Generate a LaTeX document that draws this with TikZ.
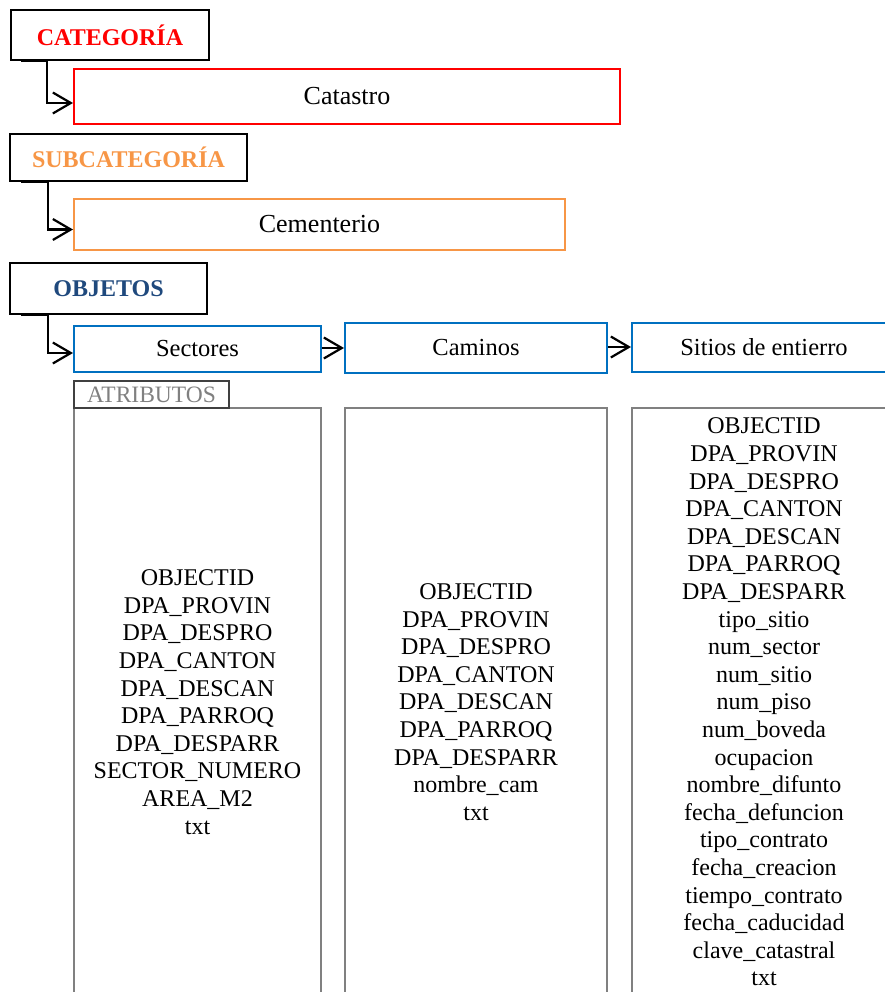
\documentclass[tikz,border=0pt]{standalone}
\usepackage{fontspec}
\setmainfont{Liberation Serif}
\usetikzlibrary{arrows.meta}
\definecolor{cRed}{HTML}{FF0000}
\definecolor{cOrange}{HTML}{F79646}
\definecolor{cNavy}{HTML}{1F497D}
\definecolor{cBlue}{HTML}{0070C0}
\definecolor{cGrey}{HTML}{808080}
\begin{document}
\begin{tikzpicture}[x=1pt,y=-1pt,
  hdr/.style={draw=black,line width=2.2pt,inner sep=0pt,font=\fontsize{24}{28}\selectfont\bfseries},
  lbox/.style={draw,line width=2pt,inner sep=0pt,font=\fontsize{24.5}{28}\selectfont},
  abox/.style={draw=cGrey,line width=2pt,inner sep=0pt,align=center,font=\fontsize{24}{27.6}\selectfont},
  conn/.style={line width=2.2pt,-{Straight Barb[length=18pt,width=21pt]}},
]
\useasboundingbox (0,0) rectangle (885,992);
\clip (0,0) rectangle (885,992);
% headers
\node[hdr,text=cRed,minimum width=198pt,minimum height=50pt] (cat) at (110,35) {CATEGORÍA};
\node[hdr,text=cOrange,minimum width=237pt,minimum height=47pt] (sub) at (128.5,157.5) {SUBCATEGORÍA};
\node[hdr,text=cNavy,minimum width=197pt,minimum height=51pt] (obj) at (108.5,288.5) {OBJETOS};
% level boxes
\node[lbox,draw=cRed,minimum width=546pt,minimum height=55pt,font=\fontsize{26}{30}\selectfont] (catastro) at (347,96.5) {Catastro};
\node[lbox,draw=cOrange,minimum width=491pt,minimum height=51pt,font=\fontsize{26}{30}\selectfont] (cem) at (319.5,224.5) {Cementerio};
\node[lbox,draw=cBlue,minimum width=247pt,minimum height=46pt] (sec) at (197.5,349) {Sectores};
\node[lbox,draw=cBlue,minimum width=262pt,minimum height=50pt] (cam) at (476,348) {Caminos};
\node[lbox,draw=cBlue,minimum width=264pt,minimum height=49pt] (sit) at (764,347.5) {Sitios de entierro};
% attribute boxes
\node[abox,minimum width=247pt,minimum height=588pt] (a1) at (197.5,702) {OBJECTID\\DPA\_PROVIN\\DPA\_DESPRO\\DPA\_CANTON\\DPA\_DESCAN\\DPA\_PARROQ\\DPA\_DESPARR\\SECTOR\_NUMERO\\AREA\_M2\\txt};
\node[abox,minimum width=262pt,minimum height=588pt] (a2) at (476,702) {OBJECTID\\DPA\_PROVIN\\DPA\_DESPRO\\DPA\_CANTON\\DPA\_DESCAN\\DPA\_PARROQ\\DPA\_DESPARR\\nombre\_cam\\txt};
\node[abox,minimum width=264pt,minimum height=588pt] (a3) at (764,702) {OBJECTID\\DPA\_PROVIN\\DPA\_DESPRO\\DPA\_CANTON\\DPA\_DESCAN\\DPA\_PARROQ\\DPA\_DESPARR\\tipo\_sitio\\num\_sector\\num\_sitio\\num\_piso\\num\_boveda\\ocupacion\\nombre\_difunto\\fecha\_defuncion\\tipo\_contrato\\fecha\_creacion\\tiempo\_contrato\\fecha\_caducidad\\clave\_catastral\\txt};
\node[draw=black!75,line width=1.5pt,inner sep=0pt,text=cGrey,minimum width=155pt,minimum height=27pt,font=\fontsize{23.5}{27}\selectfont] (tab) at (151.5,394.5) {ATRIBUTOS};
% connectors
\draw[conn] ([xshift=11pt]cat.south west) -- ([xshift=37pt]cat.south west) |- ([yshift=-6.5pt]catastro.west);
\draw[conn] ([xshift=12pt]sub.south west) -- ([xshift=39pt]sub.south west) |- ([yshift=-5pt]cem.west);
\draw[conn] ([xshift=12pt]obj.south west) -- ([xshift=39pt]obj.south west) |- ([yshift=-4pt]sec.west);
\draw[conn] ([yshift=1pt]sec.east) -- ([yshift=1pt]sec.east -| cam.west);
\draw[conn] ([yshift=1pt]cam.east) -- ([yshift=1pt]cam.east -| sit.west);
\end{tikzpicture}
\end{document}
